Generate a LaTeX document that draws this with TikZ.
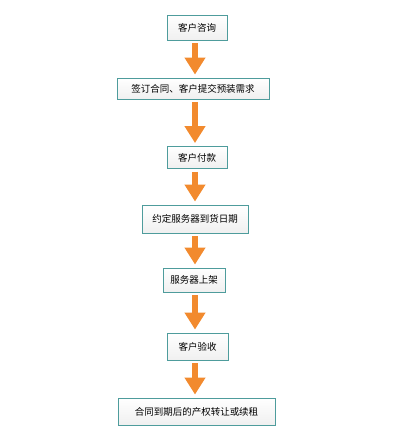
\documentclass[tikz,border=0pt]{standalone}
\usepackage{fontspec}
\setmainfont{Noto Sans CJK SC}
\usetikzlibrary{arrows.meta}
\definecolor{borda}{HTML}{4E9C9C}
\definecolor{laranja}{HTML}{F28A2E}
\begin{document}
\begin{tikzpicture}[x=1pt, y=-1pt,
    etapa/.style={draw=borda, line width=0.9pt, top color=white, bottom color=gray!12,
      inner sep=0pt, font=\fontsize{9.5}{11}\selectfont},
    seta/.style={draw=laranja, line width=6pt, -{Triangle[width=20pt, length=17pt]}}]

  \useasboundingbox (0,0) rectangle (400,445);

  % 1. Etapas do processo, de cima para baixo
  \node [etapa, minimum width=60pt, minimum height=25pt] (e1) at (197,27.5) {客户咨询};
  \node [etapa, minimum width=152pt, minimum height=21pt] (e2) at (193,88.5) {签订合同、客户提交预装需求};
  \node [etapa, minimum width=60pt, minimum height=22pt] (e3) at (197,157.5) {客户付款};
  \node [etapa, minimum width=106pt, minimum height=28pt] (e4) at (195,219) {约定服务器到货日期};
  \node [etapa, minimum width=62pt, minimum height=24pt] (e5) at (194,280) {服务器上架};
  \node [etapa, minimum width=61pt, minimum height=27pt] (e6) at (197.5,346.5) {客户验收};
  \node [etapa, minimum width=157pt, minimum height=27pt] (e7) at (196.5,411.5) {合同到期后的产权转让或续租};

  % 2. Setas entre etapas consecutivas
  \foreach \a/\b in {e1/e2,e2/e3,e3/e4,e4/e5,e5/e6,e6/e7} {
    \draw [seta] ([yshift=-3pt]\a.south -| 195,0) -- ([yshift=3pt]\b.north -| 195,0);
  }

\end{tikzpicture}
\end{document}
